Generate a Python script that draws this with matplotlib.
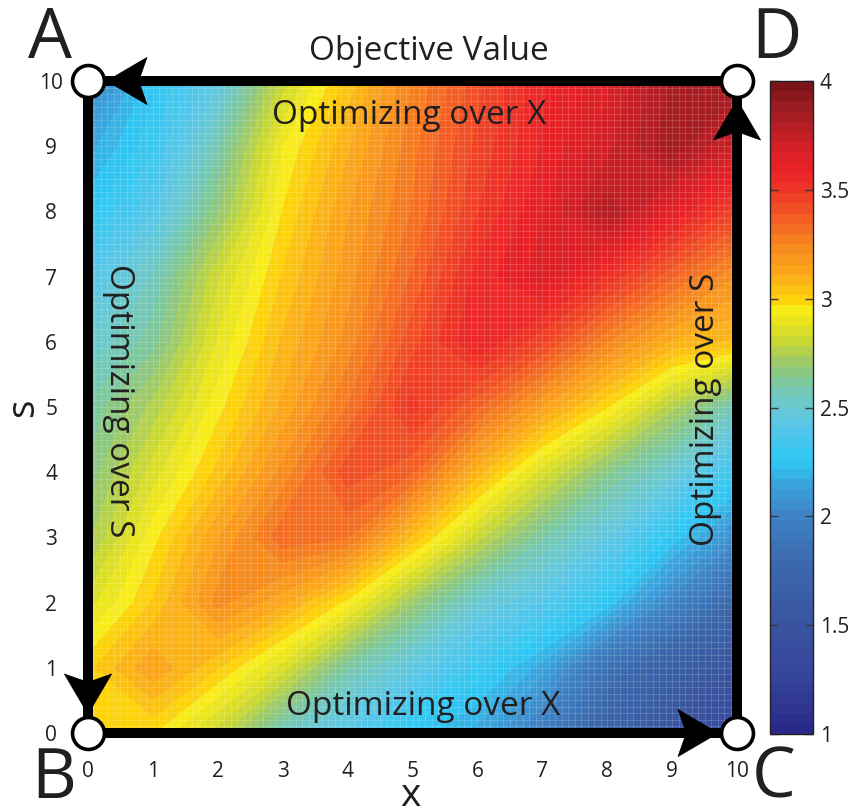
import numpy as np
import matplotlib
matplotlib.use("Agg")
import matplotlib.pyplot as plt
import matplotlib.transforms as mtransforms
from matplotlib.colors import LinearSegmentedColormap, Normalize
from matplotlib.patches import Polygon
from matplotlib.ticker import MultipleLocator, FormatStrFormatter

plt.rcParams["font.family"] = ["Open Sans", "DejaVu Sans"]

# ---- data ----
x_vals = list(range(0, 11))
s_vals = list(range(0, 11))
# objective value, one row per s (s = 0 .. 10), columns x = 0 .. 10
obj_rows = [
    [3.00, 2.97, 2.80, 2.55, 2.40, 2.25, 2.15, 1.95, 1.70, 1.50, 1.30],   # s=0
    [3.00, 3.15, 3.02, 2.85, 2.60, 2.45, 2.30, 2.15, 1.85, 1.65, 1.50],   # s=1
    [2.85, 3.02, 3.22, 3.12, 2.95, 2.70, 2.50, 2.40, 2.25, 2.00, 1.75],   # s=2
    [2.72, 2.95, 3.15, 3.33, 3.30, 3.05, 2.80, 2.60, 2.45, 2.25, 2.05],   # s=3
    [2.65, 2.85, 3.03, 3.22, 3.42, 3.35, 3.08, 2.85, 2.65, 2.50, 2.30],   # s=4
    [2.60, 2.75, 2.95, 3.12, 3.30, 3.50, 3.35, 3.15, 2.97, 2.75, 2.55],   # s=5
    [2.50, 2.62, 2.88, 3.07, 3.22, 3.42, 3.58, 3.45, 3.25, 3.10, 3.05],   # s=6
    [2.40, 2.55, 2.82, 3.02, 3.18, 3.35, 3.55, 3.65, 3.52, 3.35, 3.20],   # s=7
    [2.25, 2.40, 2.68, 2.97, 3.15, 3.30, 3.48, 3.62, 3.80, 3.62, 3.45],   # s=8
    [2.15, 2.30, 2.58, 2.92, 3.10, 3.28, 3.45, 3.58, 3.70, 3.85, 3.70],   # s=9
    [2.00, 2.25, 2.45, 2.80, 3.03, 3.25, 3.42, 3.57, 3.66, 3.82, 3.85],   # s=10
]
x_ticks = list(range(0, 11))
s_ticks = list(range(0, 11))
cbar_ticks = [1, 1.5, 2, 2.5, 3, 3.5, 4]
vmin, vmax = 1, 4

# colour bar stops (value, colour)
cmap_values = [1.0, 1.25, 1.5, 1.75, 2.0, 2.15, 2.25, 2.4, 2.5, 2.6, 2.7, 2.8,
               2.9, 2.95, 3.0, 3.1, 3.25, 3.4, 3.5, 3.6, 3.7, 3.8, 3.9, 4.0]
cmap_colors = ["#29298a", "#35459b", "#3a55a1", "#3b67ab", "#3e84c6", "#3aa6dd",
               "#2ec8f4", "#55c6ea", "#6ac8d4", "#78c8a8", "#98c870", "#c4d636",
               "#eae41e", "#f7ec1a", "#fcd20a", "#fbb018", "#f6881f", "#f15824",
               "#ee3a27", "#ea2227", "#d82026", "#b81e24", "#9a1c20", "#7a1418"]

corner_x = [0, 0, 10, 10]
corner_s = [10, 0, 0, 10]
corner_names = ["A", "B", "C", "D"]
arrow_angles = [180, -90, 0, 90]   # direction each edge arrow points

# ---- figure ----
fig = plt.figure(figsize=(8.52, 8.11), dpi=100)
ax = fig.add_axes([88 / 852, 78 / 811, 649 / 852, 652 / 811])
cax = fig.add_axes([770 / 852, 77 / 811, 43 / 852, 653 / 811])

pos = [(v - vmin) / (vmax - vmin) for v in cmap_values]
cmap = LinearSegmentedColormap.from_list("obj", list(zip(pos, cmap_colors)), N=64)
norm = Normalize(vmin, vmax)

cs = ax.contourf(x_vals, s_vals, np.array(obj_rows),
                 levels=np.linspace(vmin, vmax, 65), cmap=cmap, norm=norm)
ax.set_xlim(0, 10)
ax.set_ylim(0, 10)

# faint mesh like the triangulated surface
ax.xaxis.set_minor_locator(MultipleLocator(0.1))
ax.yaxis.set_minor_locator(MultipleLocator(0.1))
ax.grid(which="both", color="white", alpha=0.18, lw=0.6)

ax.set_xticks(x_ticks)
ax.set_yticks(s_ticks)
ax.tick_params(which="both", length=0, labelsize=15, colors="#231f20")
ax.tick_params(axis="x", pad=20)
ax.tick_params(axis="y", pad=26.5)
for lbl in ax.get_yticklabels():
    lbl.set_horizontalalignment("center")

for sp in ax.spines.values():
    sp.set_linewidth(7.2)
    sp.set_color("black")

ax.set_xlabel("x", fontsize=28, va="baseline", color="#231f20")
ax.xaxis.set_label_coords((410 - 88) / 649, -(806 - 733) / 652)
ax.set_ylabel("s", fontsize=28, va="baseline", color="#231f20")
ax.yaxis.set_label_coords(-(88 - 33) / 649, (733 - 408) / 652)

# edge annotations
txt = dict(fontsize=24, color="#231f20", rotation_mode="anchor", ha="center", va="baseline")
ax.text(4.95, 9.34, "Optimizing over X", **txt)
ax.text(5.16, 0.28, "Optimizing over X", **txt)
ax.text(0.34, 5.10, "Optimizing over S", rotation=-90, **txt)
ax.text(9.65, 4.96, "Optimizing over S", rotation=90, **txt)

# arrow heads (in points, pointing +x, tip at origin)
head = [(0, 0), (-29, 17), (-23, 0), (-29, -17)]
k = fig.dpi / 72
for cx, cy, ang in zip(corner_x, corner_s, arrow_angles):
    tr = (mtransforms.Affine2D().translate(-13.5, 0).rotate_deg(ang).scale(k)
          + mtransforms.ScaledTranslation(cx, cy, ax.transData))
    ax.add_patch(Polygon(head, closed=True, facecolor="black", edgecolor="black",
                         lw=0.5, transform=tr, clip_on=False, zorder=6))

ax.plot(corner_x, corner_s, "o", ms=23, mfc="white", mec="black", mew=2.6,
        clip_on=False, zorder=8)

# corner letters
letter_pos = [(50, 58), (54, 798), (774, 798), (776, 58)]
for name, (px, py) in zip(corner_names, letter_pos):
    fig.text(px / 852, 1 - py / 811, name, fontsize=50, ha="center", va="baseline",
             color="#231f20")

fig.text(429 / 852, 1 - 60 / 811, "Objective Value", fontsize=24, ha="center",
         va="baseline", color="#231f20")

# colour bar
cb = fig.colorbar(cs, cax=cax, ticks=cbar_ticks)
cb.formatter = FormatStrFormatter("%g")
cb.update_ticks()
cb.outline.set_linewidth(1.0)
cb.outline.set_edgecolor("#231f20")
cax.tick_params(direction="in", left=True, right=True, length=6, width=1,
                color="#3a3a3a", labelsize=15, labelcolor="#231f20", pad=5)

fig.savefig("out.png", dpi=100)
